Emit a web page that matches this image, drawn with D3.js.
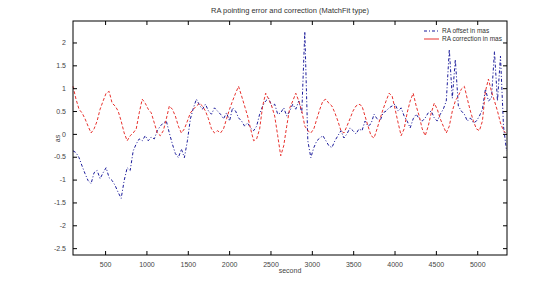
<!DOCTYPE html>
<html>
<head>
<meta charset="utf-8">
<script src="https://cdn.jsdelivr.net/npm/d3@7"></script>
<style>
  body { margin: 0; background: #fff; }
  svg { display: block; font-family: "Liberation Sans", Arial, sans-serif; }
</style>
</head>
<body>
<svg id="chart" width="560" height="289"></svg>
<script>
// time grid (seconds)
const tStart = 112;
const tEnd = 5354;

// RA offset (mas) - blue dash-dot
const raOffset = [
  -0.37, -0.41, -0.52, -0.70, -0.87, -1.02, -1.09, -0.85, -0.80, -0.98,
  -0.85, -0.74, -0.96, -1.02, -1.13, -1.28, -1.41, -1.02, -0.74, -0.80,
  -0.37, -0.22, -0.11, -0.15, -0.04, -0.15, -0.07, -0.11, 0.07, 0.17,
  0.24, 0.28, 0.02, -0.22, -0.43, -0.52, -0.33, -0.52, -0.15, 0.33,
  0.57, 0.76, 0.63, 0.54, 0.65, 0.50, 0.43, 0.57, 0.50, 0.43,
  0.33, 0.46, 0.28, 0.57, 0.50, 0.35, 0.28, 0.17, 0.24, 0.13,
  0.07, 0.17, 0.43, 0.61, 0.72, 0.78, 0.61, 0.65, 0.43, 0.46,
  0.57, 0.39, 0.50, 0.65, 0.54, 0.72, 0.46, 2.24, -0.15, -0.52,
  -0.30, -0.15, -0.09, -0.04, -0.15, -0.26, -0.30, -0.15, -0.04, 0.07,
  -0.09, 0.00, 0.13, 0.07, 0.00, 0.11, 0.07, 0.28, 0.17, 0.22,
  0.43, 0.33, 0.28, 0.46, 0.50, 0.57, 0.61, 0.65, 0.50, 0.57,
  0.39, 0.28, 0.13, 0.33, 0.43, 0.33, 0.28, 0.35, 0.46, 0.50,
  0.35, 0.28, 0.43, 0.54, 0.72, 1.85, 0.78, 1.63, 0.61, 0.50,
  0.43, 0.28, 0.35, 0.24, 0.28, 0.39, 0.54, 0.98, 0.72, 0.78,
  1.80, 0.72, 1.70, 0.17, -0.37
];

// RA correction (mas) - red dashed
const raCorrection = [
  1.04, 0.76, 0.54, 0.46, 0.33, 0.17, 0.02, 0.11, 0.28, 0.54,
  0.72, 0.89, 0.93, 0.67, 0.61, 0.50, 0.28, 0.02, -0.15, -0.04,
  0.02, 0.11, 0.46, 0.76, 0.67, 0.54, 0.46, 0.24, 0.02, -0.04,
  0.07, 0.33, 0.61, 0.54, 0.39, 0.17, 0.02, 0.11, 0.28, 0.46,
  0.54, 0.61, 0.67, 0.61, 0.50, 0.33, 0.11, 0.02, 0.07, 0.02,
  0.11, 0.33, 0.54, 0.72, 0.89, 1.04, 0.83, 0.61, 0.39, 0.11,
  -0.15, -0.11, 0.11, 0.61, 0.89, 0.76, 0.61, 0.39, -0.04, -0.48,
  -0.26, 0.17, 0.57, 0.72, 0.89, 0.72, 0.50, 0.17, 0.07, 0.02,
  0.11, 0.33, 0.54, 0.72, 0.76, 0.67, 0.61, 0.46, 0.28, 0.07,
  0.02, 0.17, 0.33, 0.50, 0.61, 0.65, 0.61, 0.39, 0.17, -0.04,
  -0.09, 0.11, 0.33, 0.54, 0.72, 0.89, 0.83, 0.54, 0.24, -0.04,
  0.11, 0.46, 0.72, 0.89, 0.61, 0.39, 0.11, -0.04, 0.17, 0.46,
  0.67, 0.54, 0.33, 0.17, 0.02, 0.17, 0.50, 0.72, 0.83, 0.98,
  1.04, 0.76, 0.50, 0.28, 0.11, 0.07, 0.28, 0.93, 1.20, 0.93,
  0.72, 0.50, 0.24, 0.07, 0.00
];

const xTicks = [500, 1000, 1500, 2000, 2500, 3000, 3500, 4000, 4500, 5000];
const yTicks = [-2.5, -2, -1.5, -1, -0.5, 0, 0.5, 1, 1.5, 2];

const titleText = "RA pointing error and correction (MatchFit type)";
const legendLabels = ["RA offset in mas", "RA correction in mas"];

const pLeft = 73, pRight = 507, pTop = 21, pBottom = 255;
const svg = d3.select("#chart");

const x = d3.scaleLinear().domain([112, 5360]).range([pLeft, pRight]);
const y = d3.scaleLinear().domain([-2.65, 2.47]).range([pBottom, pTop]);

const toPts = vals => {
  const st = (tEnd - tStart) / (vals.length - 1);
  return vals.map((v, i) => [tStart + i * st, v]);
};

const line = d3.line().x(d => x(d[0])).y(d => y(d[1]));

const g = svg.append("g");

g.append("path")
  .datum(toPts(raOffset))
  .attr("fill", "none")
  .attr("stroke", "#1a1a9a")
  .attr("stroke-width", 1)
  .attr("stroke-dasharray", "3,2,1,2")
  .attr("d", line);

g.append("path")
  .datum(toPts(raCorrection))
  .attr("fill", "none")
  .attr("stroke", "#e8322e")
  .attr("stroke-width", 1)
  .attr("stroke-dasharray", "3,2")
  .attr("d", line);

// box
svg.append("rect")
  .attr("x", pLeft).attr("y", pTop)
  .attr("width", pRight - pLeft).attr("height", pBottom - pTop)
  .attr("fill", "none").attr("stroke", "#000").attr("stroke-width", 1);

// axes (ticks inward, matlab style)
const axisStyle = sel => {
  sel.select(".domain").remove();
  sel.selectAll("line").attr("stroke", "#000");
  sel.selectAll("text").attr("fill", "#444").attr("font-size", 7);
};

svg.append("g")
  .attr("transform", `translate(0,${pBottom})`)
  .call(d3.axisBottom(x).tickValues(xTicks).tickSizeInner(-4).tickPadding(7)
    .tickFormat(d => String(d)))
  .call(axisStyle);
svg.append("g")
  .attr("transform", `translate(0,${pTop})`)
  .call(d3.axisTop(x).tickValues(xTicks).tickSizeInner(-4).tickFormat(""))
  .call(axisStyle);
svg.append("g")
  .attr("transform", `translate(${pLeft},0)`)
  .call(d3.axisLeft(y).tickValues(yTicks).tickSizeInner(-4).tickPadding(7)
    .tickFormat(d => String(d)))
  .call(axisStyle);
svg.append("g")
  .attr("transform", `translate(${pRight},0)`)
  .call(d3.axisRight(y).tickValues(yTicks).tickSizeInner(-4).tickFormat(""))
  .call(axisStyle);

// title and labels
svg.append("text")
  .attr("x", (pLeft + pRight) / 2).attr("y", 13)
  .attr("text-anchor", "middle")
  .attr("font-size", 7.5).attr("fill", "#333")
  .text(titleText);

svg.append("text")
  .attr("x", 290).attr("y", 273)
  .attr("text-anchor", "middle")
  .attr("font-size", 7).attr("fill", "#444")
  .text("second");

svg.append("text")
  .attr("transform", `translate(60,${y(-0.1)}) rotate(-90)`)
  .attr("text-anchor", "middle")
  .attr("font-size", 7).attr("fill", "#444")
  .text("as");

// legend
const legend = svg.append("g").attr("transform", "translate(424,31)");
const legStyles = [
  { color: "#1a1a9a", dash: "3,2,1,2" },
  { color: "#e8322e", dash: null }
];
legendLabels.forEach((lab, i) => {
  const row = legend.append("g").attr("transform", `translate(0,${i * 8})`);
  row.append("line")
    .attr("x1", 0).attr("x2", 15).attr("y1", 0).attr("y2", 0)
    .attr("stroke", legStyles[i].color)
    .attr("stroke-dasharray", legStyles[i].dash);
  row.append("text")
    .attr("x", 18).attr("y", 2.3)
    .attr("font-size", 6.5).attr("fill", "#333")
    .text(lab);
});
</script>
</body>
</html>
